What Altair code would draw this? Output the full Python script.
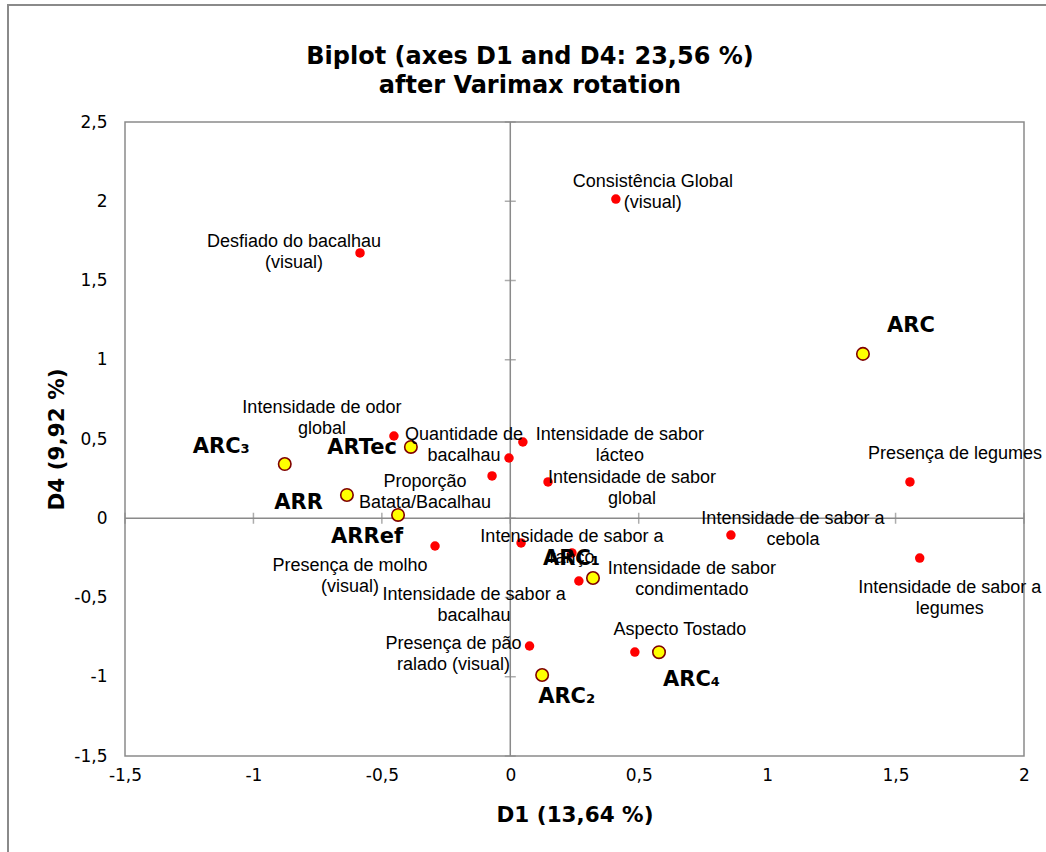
import altair as alt
import pandas as pd

# Active variables: loadings on D1 / D4 after Varimax rotation
var_names = [
    "Consistência Global\n(visual)",
    "Desfiado do bacalhau\n(visual)",
    "Intensidade de odor\nglobal",
    "Quantidade de\nbacalhau",
    "Intensidade de sabor\nlácteo",
    "Proporção\nBatata/Bacalhau",
    "Intensidade de sabor\nglobal",
    "Presença de legumes",
    "Intensidade de sabor a\ncebola",
    "Presença de molho\n(visual)",
    "Intensidade de sabor a\nranço",
    "Intensidade de sabor a\nbacalhau",
    "Intensidade de sabor\ncondimentado",
    "Intensidade de sabor a\nlegumes",
    "Presença de pão\nralado (visual)",
    "Aspecto Tostado",
]
var_d1 = [0.411, -0.585, -0.453, -0.005, 0.049, -0.071, 0.147, 1.556,
          0.859, -0.293, 0.240, 0.042, 0.267, 1.594, 0.075, 0.485]
var_d4 = [2.014, 1.674, 0.519, 0.380, 0.481, 0.267, 0.229, 0.229,
          -0.106, -0.175, -0.219, -0.156, -0.396, -0.251, -0.806, -0.844]

# Observations (products)
obs_names = ["ARC", "ARC₃", "ARTec", "ARR", "ARRef", "ARC₁", "ARC₂", "ARC₄"]
obs_d1 = [1.373, -0.878, -0.387, -0.636, -0.437, 0.322, 0.124, 0.579]
obs_d4 = [1.037, 0.342, 0.450, 0.147, 0.021, -0.377, -0.989, -0.845]

x_ticks = [-1.5, -1, -0.5, 0, 0.5, 1, 1.5, 2]
y_ticks = [-1.5, -1, -0.5, 0, 0.5, 1, 1.5, 2, 2.5]

title_lines = "Biplot (axes D1 and D4: 23,56 %)\nafter Varimax rotation"
x_title = "D1 (13,64 %)"
y_title = "D4 (9,92 %)"

# Label placement around each point: (align, dx, dy) in pixels
var_label_pos = [
    ("center", 37, -17), ("center", -66, -11), ("center", -72, -28),
    ("center", -45, -23), ("center", 97, -7), ("center", -67, 6),
    ("center", 84, -4), ("center", 45, -28), ("center", 62, -16),
    ("center", -85, 20), ("center", 0, -16), ("center", -47, 52),
    ("center", 113, -12), ("center", 30, 30), ("center", -76, -2),
    ("center", 45, -22),
]
obs_label_pos = [
    ("center", 48, -28), ("right", -35, -17), ("right", -14, 1),
    ("right", -24, 8), ("right", 5, 22), ("left", -50, -19),
    ("left", -4, 22), ("left", 4, 28),
]

var_df = pd.DataFrame({"idx": range(len(var_names)), "name": var_names,
                       "d1": var_d1, "d4": var_d4})
obs_df = pd.DataFrame({"idx": range(len(obs_names)), "name": obs_names,
                       "d1": obs_d1, "d4": obs_d4})

GRAY = "#8a8a8a"
LABEL_EXPR = "replace(toString(datum.value), '.', ',')"

xscale = alt.Scale(domain=[-1.5, 2], nice=False, zero=False)
yscale = alt.Scale(domain=[-1.5, 2.5], nice=False, zero=False)

x_axis = alt.Axis(values=x_ticks, labelExpr=LABEL_EXPR, grid=False, domain=False,
                  ticks=False, labelPadding=11, labelFont="DejaVu Sans",
                  labelFontSize=17, labelColor="#000000", labelFlush=False,
                  title=x_title, titleFont="DejaVu Sans", titleFontSize=21.5,
                  titleFontWeight="bold", titleColor="#000000", titleY=59,
                  titleBaseline="middle")
y_axis = alt.Axis(values=y_ticks, labelExpr=LABEL_EXPR, grid=False, domain=False,
                  ticks=False, labelPadding=18, labelFont="DejaVu Sans",
                  labelFontSize=17, labelColor="#000000", labelFlush=False,
                  title=y_title, titleFont="DejaVu Sans", titleFontSize=21.5,
                  titleFontWeight="bold", titleColor="#000000", titleX=-68,
                  titleBaseline="middle")


def xq(field):
    return alt.X(field, type="quantitative", scale=xscale, axis=x_axis)


def yq(field):
    return alt.Y(field, type="quantitative", scale=yscale, axis=y_axis)


one = pd.DataFrame({"v": [0]})

# outer chart frame
frame = alt.Chart(one).mark_rect(filled=False, stroke=GRAY, strokeWidth=2).encode(
    x=alt.value(-117), x2=alt.value(935), y=alt.value(-117), y2=alt.value(740)
)

# two-line chart title
title = alt.Chart(one).mark_text(
    align="center", baseline="middle", lineBreak="\n", lineHeight=29,
    font="DejaVu Sans", fontSize=24, fontWeight="bold", color="#000000"
).encode(x=alt.value(405), y=alt.value(-65), text=alt.value(title_lines))

# axes crossing at the origin, with tick marks
zero_v = alt.Chart(one).mark_rule(color=GRAY, strokeWidth=1.5).encode(x=xq("v"))
zero_h = alt.Chart(one).mark_rule(color=GRAY, strokeWidth=1.5).encode(y=yq("v"))

xt = alt.Chart(pd.DataFrame({"v": x_ticks})).transform_calculate(z="0").mark_tick(
    orient="vertical", size=11, thickness=1.5, color=GRAY
).encode(x=xq("v"), y=yq("z"))
yt = alt.Chart(pd.DataFrame({"v": y_ticks})).transform_calculate(z="0").mark_tick(
    orient="horizontal", size=11, thickness=1.5, color=GRAY
).encode(y=yq("v"), x=xq("z"))

var_pts = alt.Chart(var_df).mark_circle(size=90, color="#ff0000", opacity=1).encode(
    x=xq("d1"), y=yq("d4"))
obs_pts = alt.Chart(obs_df).mark_point(
    filled=True, shape="circle", size=155, fill="#ffff00", stroke="#7f0000",
    strokeWidth=1.6, opacity=1
).encode(x=xq("d1"), y=yq("d4"))

layers = [frame, title, zero_v, zero_h, xt, yt, var_pts, obs_pts]

for i, (align, dx, dy) in enumerate(var_label_pos):
    layers.append(
        alt.Chart(var_df).transform_filter(alt.datum.idx == i).mark_text(
            align=align, baseline="middle", dx=dx, dy=dy, lineBreak="\n",
            lineHeight=21, font="Liberation Sans", fontSize=18, color="#000000"
        ).encode(x=xq("d1"), y=yq("d4"), text="name:N")
    )

for i, (align, dx, dy) in enumerate(obs_label_pos):
    layers.append(
        alt.Chart(obs_df).transform_filter(alt.datum.idx == i).mark_text(
            align=align, baseline="middle", dx=dx, dy=dy, font="DejaVu Sans",
            fontSize=21, fontWeight="bold", color="#000000"
        ).encode(x=xq("d1"), y=yq("d4"), text="name:N")
    )

chart = alt.layer(*layers).properties(
    width=899,
    height=634,
    autosize=alt.AutoSizeParams(type="none"),
    padding={"left": 125, "top": 122, "right": 22, "bottom": 96},
    background="#ffffff",
).configure_view(stroke=GRAY, strokeWidth=1.5)

chart.save("out.html", embed_options={"renderer": "svg", "actions": False})
